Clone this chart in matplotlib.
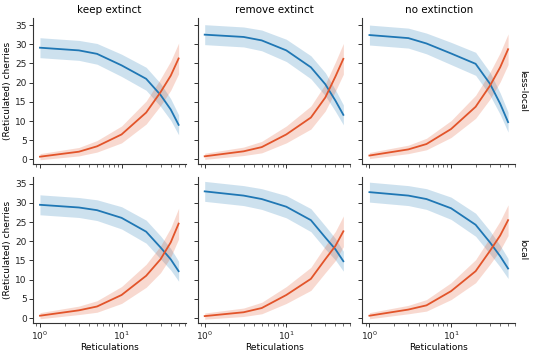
import numpy as np
import matplotlib
matplotlib.use("Agg")
import matplotlib.pyplot as plt

reticulations = [1, 3, 5, 10, 20, 30, 40, 50]
cols = ["keep extinct", "remove extinct", "no extinction"]
rows = ["less-local", "local"]

# mean cherries (blue) and reticulated cherries (red), per row/col
cherries = {
    ("less-local", "keep extinct"):   [29.1, 28.4, 27.5, 24.5, 21.0, 16.8, 13.0, 9.0],
    ("less-local", "remove extinct"): [32.5, 31.9, 31.0, 28.4, 24.0, 19.6, 15.3, 11.6],
    ("less-local", "no extinction"):  [32.4, 31.6, 30.2, 27.6, 24.9, 19.7, 14.5, 9.7],
    ("local", "keep extinct"):        [29.5, 28.8, 28.1, 26.1, 22.5, 18.4, 15.3, 12.2],
    ("local", "remove extinct"):      [33.0, 31.9, 31.0, 29.0, 25.5, 21.0, 17.9, 14.8],
    ("local", "no extinction"):       [32.8, 31.9, 31.0, 28.6, 24.3, 19.7, 16.1, 12.9],
}
ret_cherries = {
    ("less-local", "keep extinct"):   [0.7, 2.0, 3.4, 6.5, 12.2, 17.5, 21.8, 26.3],
    ("less-local", "remove extinct"): [0.8, 2.1, 3.2, 6.5, 10.9, 16.1, 21.6, 26.2],
    ("less-local", "no extinction"):  [1.0, 2.6, 4.0, 7.9, 13.7, 19.2, 24.0, 28.7],
    ("local", "keep extinct"):        [0.6, 2.0, 3.0, 6.0, 11.0, 15.3, 19.7, 24.6],
    ("local", "remove extinct"):      [0.5, 1.5, 2.6, 6.0, 10.2, 15.3, 18.8, 22.6],
    ("local", "no extinction"):       [0.6, 2.2, 3.3, 7.0, 12.2, 17.5, 21.5, 25.5],
}
cherries_ci = [2.6, 2.6, 2.7, 2.9, 3.0, 3.0, 2.8, 2.6]
ret_cherries_ci = [0.8, 1.1, 1.5, 2.2, 3.0, 3.5, 3.8, 4.0]

blue = "#1f77b4"
red = "#e2542a"

fig = plt.figure(figsize=(5.45, 3.56), dpi=100)
fig.subplots_adjust(left=0.0606, right=0.945, top=0.949, bottom=0.0927,
                    wspace=0.08, hspace=0.085)
axes = fig.subplots(2, 3, sharex=True, sharey=True)

x = np.array(reticulations, dtype=float)
for i, r in enumerate(rows):
    for j, c in enumerate(cols):
        ax = axes[i, j]
        for data, ci, col in [(cherries[(r, c)], cherries_ci, blue),
                              (ret_cherries[(r, c)], ret_cherries_ci, red)]:
            m = np.array(data)
            e = np.array(ci)
            ax.fill_between(x, m - e, m + e, color=col, alpha=0.22, lw=0)
            ax.plot(x, m, color=col, lw=1.3)
        ax.set_xscale("log")
        for s in ["top", "right"]:
            ax.spines[s].set_visible(False)
        for s in ["left", "bottom"]:
            ax.spines[s].set_linewidth(0.8)
            ax.spines[s].set_color("#333333")
        ax.tick_params(which="major", length=3, width=0.7, labelsize=6.5,
                       colors="#333333", labelcolor="#222222", pad=1.5)
        ax.tick_params(which="minor", length=1.8, width=0.5, colors="#333333")
        if i == 0:
            ax.set_title(c, fontsize=7.5, pad=4)
        if i == 1:
            ax.set_xlabel("Reticulations", fontsize=6.5, labelpad=1)
        if j == 0:
            ax.set_ylabel("(Reticulated) cherries", fontsize=6.5, labelpad=2)
        if j == 2:
            ax.text(1.02, 0.5, r, transform=ax.transAxes, rotation=270,
                    ha="left", va="center", fontsize=6.5)

axes[0, 0].set_ylim(-1.3, 36.8)
axes[0, 0].set_yticks([0, 5, 10, 15, 20, 25, 30, 35])
axes[0, 0].set_xlim(10 ** -0.085, 10 ** (np.log10(50) + 0.085))

fig.savefig("out.png", dpi=100)
